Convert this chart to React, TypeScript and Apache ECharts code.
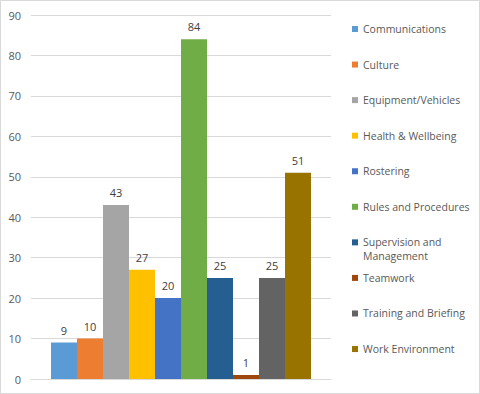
import React, { useEffect, useRef } from "react";
import * as echarts from "echarts";

const categories = [
  "Communications",
  "Culture",
  "Equipment/Vehicles",
  "Health & Wellbeing",
  "Rostering",
  "Rules and Procedures",
  "Supervision and Management",
  "Teamwork",
  "Training and Briefing",
  "Work Environment",
];
const values = [9, 10, 43, 27, 20, 84, 25, 1, 25, 51];
const legendFirstLines = [
  "Communications",
  "Culture",
  "Equipment/Vehicles",
  "Health & Wellbeing",
  "Rostering",
  "Rules and Procedures",
  "Supervision and",
  "Teamwork",
  "Training and Briefing",
  "Work Environment",
];
const legendSecondLines = ["", "", "", "", "", "", "Management", "", "", ""];
const palette = [
  "#5B9BD5",
  "#ED7D31",
  "#A5A5A5",
  "#FFC000",
  "#4472C4",
  "#70AD47",
  "#255E91",
  "#9E480E",
  "#636363",
  "#997300",
];

const FONT = "'Open Sans', sans-serif";
const LEGEND_FONT_SIZE = 10.5;

export default function App() {
  const ref = useRef<HTMLDivElement>(null);
  useEffect(() => {
    document.body.style.margin = "0";
    if (!ref.current) return;
    const chart = echarts.init(ref.current, undefined, { renderer: "svg" });
    const legendCenters = categories.map((_, i) => 29 + i * 35.56);
    const legends = categories.map((name, i) => ({
      data: [name],
      orient: "vertical",
      left: 352,
      top: legendCenters[i] - 7,
      padding: 0,
      icon: "rect",
      itemWidth: 6,
      itemHeight: 6,
      formatter: () => legendFirstLines[i],
      textStyle: {
        color: "#595959",
        fontSize: LEGEND_FONT_SIZE,
        fontFamily: FONT,
        lineHeight: 14,
      },
      selectedMode: false,
    }));
    const extraTexts = legendSecondLines
      .map((t, i) => ({ t, i }))
      .filter((d) => d.t)
      .map((d) => ({
        type: "text",
        left: 363,
        top: legendCenters[d.i] + 14 - 7,
        silent: true,
        style: {
          text: d.t,
          fill: "#595959",
          fontSize: LEGEND_FONT_SIZE,
          fontFamily: FONT,
          lineHeight: 14,
        },
      }));
    chart.setOption({
      animation: false,
      color: palette,
      textStyle: { fontFamily: FONT },
      grid: { left: 31, right: 149, top: 15, bottom: 15, containLabel: false },
      legend: legends,
      xAxis: {
        type: "category",
        data: [""],
        axisLine: { lineStyle: { color: "#d9d9d9" } },
        axisTick: { show: false },
        axisLabel: { show: false },
      },
      yAxis: {
        type: "value",
        min: 0,
        max: 90,
        interval: 10,
        axisLine: { show: false },
        axisTick: { show: false },
        axisLabel: { color: "#595959", fontSize: 11, fontFamily: FONT, margin: 10 },
        splitLine: { lineStyle: { color: "#d9d9d9" } },
      },
      series: categories.map((name, i) => ({
        name,
        type: "bar",
        data: [values[i]],
        barGap: "0%",
        barCategoryGap: "13.33%",
        label: {
          show: true,
          position: "top",
          distance: 7,
          color: "#404040",
          fontSize: 11,
          fontFamily: FONT,
        },
      })),
      graphic: [
        {
          type: "rect",
          shape: { x: 0.5, y: 0.5, width: 479, height: 393 },
          style: { fill: "none", stroke: "#d9d9d9", lineWidth: 1 },
          silent: true,
        },
        ...extraTexts,
      ],
    });
    return () => chart.dispose();
  }, []);
  return <div ref={ref} style={{ width: 480, height: 394 }} />;
}
